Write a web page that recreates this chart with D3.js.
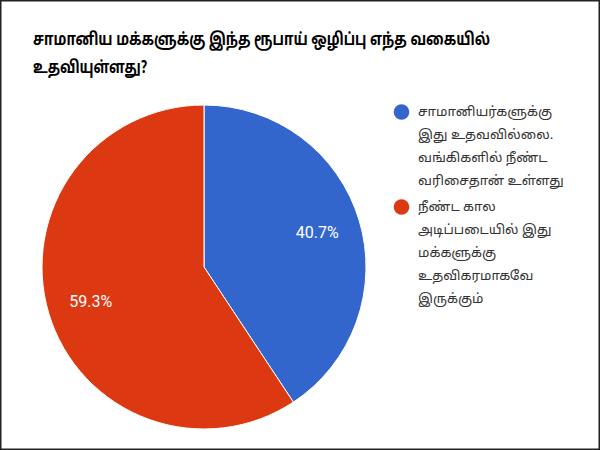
<!DOCTYPE html>
<html>
<head>
<meta charset="utf-8">
<script src="https://cdn.jsdelivr.net/npm/d3@7/dist/d3.min.js"></script>
<style>
  html, body { margin: 0; padding: 0; background: #fff; }
  svg { display: block; }
</style>
</head>
<body>
<svg id="chart" width="600" height="450"></svg>
<script>
const titleLines = ["சாமானிய மக்களுக்கு இந்த ரூபாய் ஒழிப்பு எந்த வகையில்", "உதவியுள்ளது?"];
const categories = [
  "சாமானியர்களுக்கு இது உதவவில்லை. வங்கிகளில் நீண்ட வரிசைதான் உள்ளது",
  "நீண்ட கால அடிப்படையில் இது மக்களுக்கு உதவிகரமாகவே இருக்கும்"
];
const legendLines = [
  ["சாமானியர்களுக்கு", "இது உதவவில்லை.", "வங்கிகளில் நீண்ட", "வரிசைதான் உள்ளது"],
  ["நீண்ட கால", "அடிப்படையில் இது", "மக்களுக்கு", "உதவிகரமாகவே", "இருக்கும்"]
];
const values = [40.7, 59.3];
const colors = ["#3366cc", "#dc3912"];

const svg = d3.select("#chart");
const W = 600, H = 450;
const cx = 204, cy = 267, r = 162;
const fontFam = "'Noto Sans Tamil', 'Latha', 'Lohit Tamil', 'Noto Sans', sans-serif";

// title
const titleWidths = [457, 114];
svg.append("g").selectAll("text").data(titleLines).join("text")
  .attr("x", 33)
  .attr("y", (d, i) => 45 + i * 28)
  .attr("font-family", fontFam)
  .attr("font-size", 17)
  .attr("font-weight", "bold")
  .attr("fill", "#000")
  .attr("textLength", (d, i) => titleWidths[i])
  .attr("lengthAdjust", "spacingAndGlyphs")
  .text(d => d);

const color = d3.scaleOrdinal().domain(categories).range(colors);
const pie = d3.pie().sort(null).value(d => d.value);
const data = categories.map((c, i) => ({ cat: c, value: values[i] }));
const arcs = pie(data);
const arc = d3.arc().innerRadius(0).outerRadius(r);
const labelArc = d3.arc().innerRadius(r * 0.73).outerRadius(r * 0.73);

const g = svg.append("g").attr("transform", `translate(${cx},${cy})`);
g.selectAll("path").data(arcs).join("path")
  .attr("d", arc)
  .attr("fill", d => color(d.data.cat))
  .attr("stroke", "#fff")
  .attr("stroke-width", 1);

const total = d3.sum(values);
g.selectAll("text.lbl").data(arcs).join("text")
  .attr("class", "lbl")
  .attr("transform", d => `translate(${labelArc.centroid(d)})`)
  .attr("text-anchor", "middle")
  .attr("dominant-baseline", "central")
  .attr("font-family", "Roboto, Arial, 'Liberation Sans', sans-serif")
  .attr("font-size", 16)
  .attr("fill", "#fff")
  .text(d => (d.data.value / total * 100).toFixed(1) + "%");

// legend
const legendTops = [112, 207];
const lg = svg.append("g");
categories.forEach((c, i) => {
  const e = lg.append("g");
  e.append("circle")
    .attr("cx", 401.5).attr("cy", legendTops[i]).attr("r", 7.8)
    .attr("fill", color(c));
  e.selectAll("text").data(legendLines[i]).join("text")
    .attr("x", 418)
    .attr("y", (d, j) => legendTops[i] + j * 23)
    .attr("dominant-baseline", "central")
    .attr("font-family", fontFam)
    .attr("font-size", 13.3)
    .attr("fill", "#333")
    .text(d => d);
});

// border
svg.append("rect")
  .attr("x", 0.75).attr("y", 0.75)
  .attr("width", W - 1.5).attr("height", H - 1.5)
  .attr("fill", "none").attr("stroke", "#222").attr("stroke-width", 1.5);
</script>
</body>
</html>
